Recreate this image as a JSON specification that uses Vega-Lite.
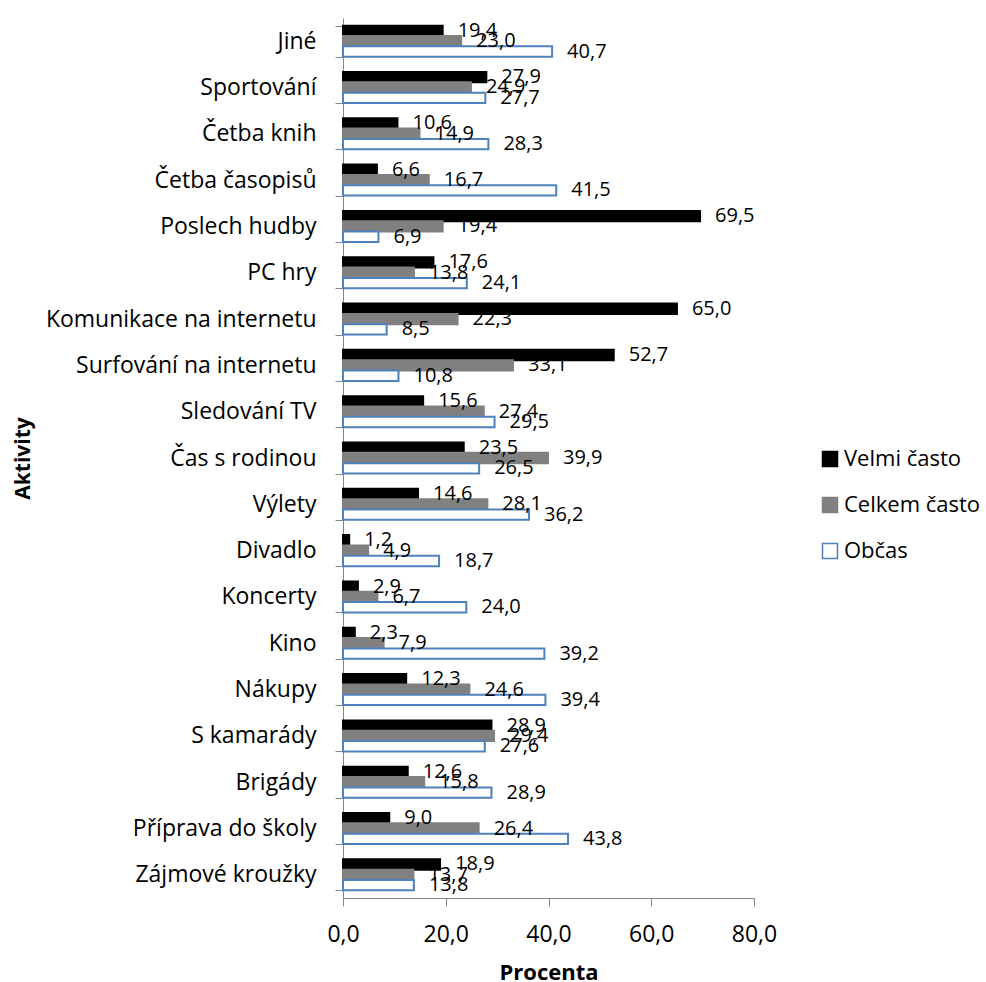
{
  "$schema": "https://vega.github.io/schema/vega-lite/v6.json",
  "autosize": {"type": "none"},
  "width": 411,
  "height": 880,
  "padding": {"left": 343, "top": 18, "right": 232, "bottom": 84},
  "background": "white",
  "config": {
    "locale": {"number": {"decimal": ",", "thousands": " ", "grouping": [3], "currency": ["", " Kč"]}},
    "font": "Open Sans",
    "view": {"stroke": null},
    "axis": {"domainColor": "#868686", "tickColor": "#868686", "labelColor": "#000000", "titleColor": "#000000", "grid": false, "labelFont": "Open Sans", "titleFont": "Open Sans"},
    "legend": {"labelFont": "Open Sans"}
  },
  "data": {"values": [
    {"a": "Jiné", "s": "Velmi často", "v": 19.4}, {"a": "Jiné", "s": "Celkem často", "v": 23.0}, {"a": "Jiné", "s": "Občas", "v": 40.7},
    {"a": "Sportování", "s": "Velmi často", "v": 27.9}, {"a": "Sportování", "s": "Celkem často", "v": 24.9}, {"a": "Sportování", "s": "Občas", "v": 27.7},
    {"a": "Četba knih", "s": "Velmi často", "v": 10.6}, {"a": "Četba knih", "s": "Celkem často", "v": 14.9}, {"a": "Četba knih", "s": "Občas", "v": 28.3},
    {"a": "Četba časopisů", "s": "Velmi často", "v": 6.6}, {"a": "Četba časopisů", "s": "Celkem často", "v": 16.7}, {"a": "Četba časopisů", "s": "Občas", "v": 41.5},
    {"a": "Poslech hudby", "s": "Velmi často", "v": 69.5}, {"a": "Poslech hudby", "s": "Celkem často", "v": 19.4}, {"a": "Poslech hudby", "s": "Občas", "v": 6.9},
    {"a": "PC hry", "s": "Velmi často", "v": 17.6}, {"a": "PC hry", "s": "Celkem často", "v": 13.8}, {"a": "PC hry", "s": "Občas", "v": 24.1},
    {"a": "Komunikace na internetu", "s": "Velmi často", "v": 65.0}, {"a": "Komunikace na internetu", "s": "Celkem často", "v": 22.3}, {"a": "Komunikace na internetu", "s": "Občas", "v": 8.5},
    {"a": "Surfování na internetu", "s": "Velmi často", "v": 52.7}, {"a": "Surfování na internetu", "s": "Celkem často", "v": 33.1}, {"a": "Surfování na internetu", "s": "Občas", "v": 10.8},
    {"a": "Sledování TV", "s": "Velmi často", "v": 15.6}, {"a": "Sledování TV", "s": "Celkem často", "v": 27.4}, {"a": "Sledování TV", "s": "Občas", "v": 29.5},
    {"a": "Čas s rodinou", "s": "Velmi často", "v": 23.5}, {"a": "Čas s rodinou", "s": "Celkem často", "v": 39.9}, {"a": "Čas s rodinou", "s": "Občas", "v": 26.5},
    {"a": "Výlety", "s": "Velmi často", "v": 14.6}, {"a": "Výlety", "s": "Celkem často", "v": 28.1}, {"a": "Výlety", "s": "Občas", "v": 36.2},
    {"a": "Divadlo", "s": "Velmi často", "v": 1.2}, {"a": "Divadlo", "s": "Celkem často", "v": 4.9}, {"a": "Divadlo", "s": "Občas", "v": 18.7},
    {"a": "Koncerty", "s": "Velmi často", "v": 2.9}, {"a": "Koncerty", "s": "Celkem často", "v": 6.7}, {"a": "Koncerty", "s": "Občas", "v": 24.0},
    {"a": "Kino", "s": "Velmi často", "v": 2.3}, {"a": "Kino", "s": "Celkem často", "v": 7.9}, {"a": "Kino", "s": "Občas", "v": 39.2},
    {"a": "Nákupy", "s": "Velmi často", "v": 12.3}, {"a": "Nákupy", "s": "Celkem často", "v": 24.6}, {"a": "Nákupy", "s": "Občas", "v": 39.4},
    {"a": "S kamarády", "s": "Velmi často", "v": 28.9}, {"a": "S kamarády", "s": "Celkem často", "v": 29.4}, {"a": "S kamarády", "s": "Občas", "v": 27.6},
    {"a": "Brigády", "s": "Velmi často", "v": 12.6}, {"a": "Brigády", "s": "Celkem často", "v": 15.8}, {"a": "Brigády", "s": "Občas", "v": 28.9},
    {"a": "Příprava do školy", "s": "Velmi často", "v": 9.0}, {"a": "Příprava do školy", "s": "Celkem často", "v": 26.4}, {"a": "Příprava do školy", "s": "Občas", "v": 43.8},
    {"a": "Zájmové kroužky", "s": "Velmi často", "v": 18.9}, {"a": "Zájmové kroužky", "s": "Celkem často", "v": 13.7}, {"a": "Zájmové kroužky", "s": "Občas", "v": 13.8}
  ]},
  "encoding": {
    "y": {
      "field": "a", "type": "nominal", "sort": null,
      "scale": {"paddingInner": 0.33, "paddingOuter": 0.165},
      "axis": {"title": "Aktivity", "titleFontSize": 21, "titleFontWeight": "bold", "titleX": -310, "titleBaseline": "bottom", "labelFontSize": 23, "labelPadding": 19, "tickBand": "extent", "tickSize": 8, "labelLimit": 400}
    },
    "yOffset": {"field": "s", "type": "nominal", "sort": ["Velmi často", "Celkem často", "Občas"], "scale": {"paddingInner": 0, "paddingOuter": 0}},
    "x": {
      "field": "v", "type": "quantitative",
      "scale": {"domain": [0, 80]},
      "axis": {"title": "Procenta", "titleFontSize": 22, "titleFontWeight": "bold", "titlePadding": 16, "values": [0, 20, 40, 60, 80], "format": ".1f", "labelFontSize": 23, "labelPadding": 17, "tickSize": 8, "labelFlush": false}
    }
  },
  "layer": [
    {
      "mark": {"type": "bar", "strokeWidth": 2},
      "encoding": {
        "fill": {"field": "s", "type": "nominal", "sort": ["Velmi často", "Celkem často", "Občas"],
          "scale": {"domain": ["Velmi často", "Celkem často", "Občas"], "range": ["#000000", "#808080", "#ffffff"]},
          "legend": {"title": null, "orient": "none", "legendX": 476, "legendY": 430, "labelFontSize": 22, "symbolType": "square", "symbolSize": 225, "rowPadding": 24, "labelOffset": 3, "symbolStrokeWidth": 1.5}},
        "stroke": {"field": "s", "type": "nominal", "sort": ["Velmi často", "Celkem často", "Občas"],
          "scale": {"domain": ["Velmi často", "Celkem často", "Občas"], "range": ["#000000", "#808080", "#4F81BD"]},
          "legend": {"title": null, "orient": "none", "legendX": 476, "legendY": 430, "labelFontSize": 22, "symbolType": "square", "symbolSize": 225, "rowPadding": 24, "labelOffset": 3, "symbolStrokeWidth": 1.5}}
      }
    },
    {
      "mark": {"type": "text", "align": "left", "baseline": "middle", "dx": 15, "fontSize": 20, "color": "#000000"},
      "encoding": {
        "text": {"field": "v", "type": "quantitative", "format": ".1f"}
      }
    }
  ]
}
